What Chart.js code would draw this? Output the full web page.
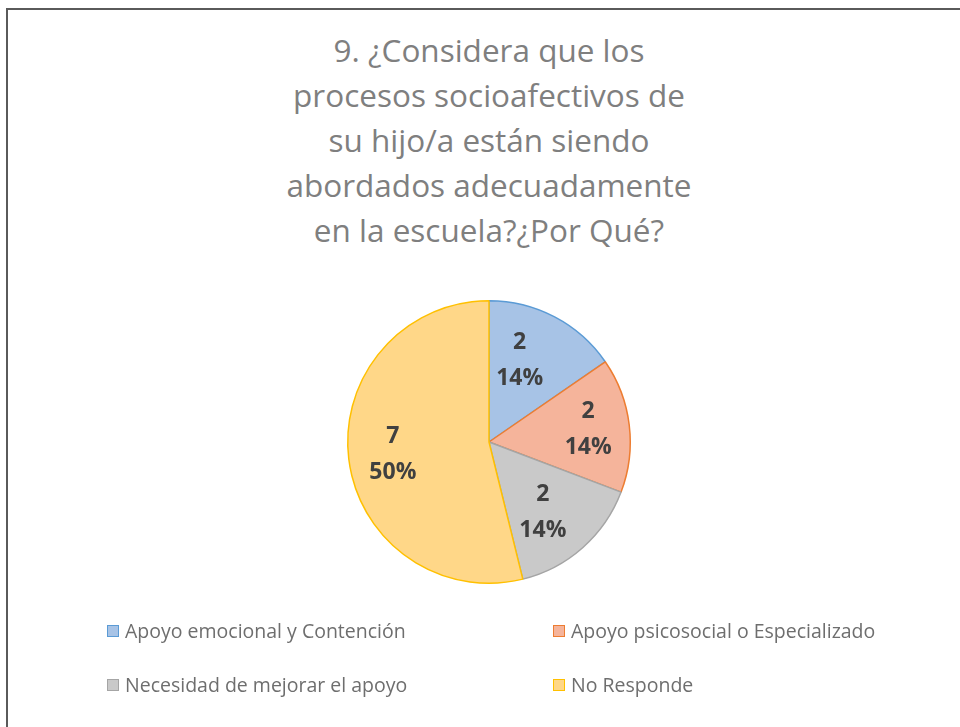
<!DOCTYPE html>
<html>
<head>
<meta charset="utf-8">
<script src="https://cdn.jsdelivr.net/npm/chart.js@4.4.1/dist/chart.umd.min.js"></script>
<style>
  html, body { margin: 0; padding: 0; background: #fff; }
  #wrap { position: relative; width: 960px; height: 727px; overflow: hidden; }
  #frame { position: absolute; left: 6px; top: 8px; right: -10px; bottom: -10px;
           border-left: 2px solid #5a5a5a; border-top: 2px solid #5a5a5a; }
  #title { position: absolute; left: 239px; width: 500px; top: 27px; text-align: center;
           font-family: "Open Sans", sans-serif; font-size: 31.5px; line-height: 45px; color: #7f7f7f; }
  #chart { position: absolute; left: 0; top: 0; }
  #legend { position: absolute; left: 107px; top: 617px; width: 820px;
            font-family: "Open Sans", sans-serif; font-size: 19.5px; color: #6e6e6e; }
  .item { position: absolute; white-space: nowrap; display: flex; align-items: center; }
  .box { width: 10px; height: 10px; border: 1.5px solid; margin-right: 6px; }
</style>
</head>
<body>
<div id="wrap">
  <div id="frame"></div>
  <div id="title"></div>
  <canvas id="chart" width="960" height="727"></canvas>
  <div id="legend"></div>
</div>
<script>
// Pie chart - socioafectivos question 9

const titleLines = [
    '9. ¿Considera que los',
    'procesos socioafectivos de',
    'su hijo/a están siendo',
    'abordados adecuadamente',
    'en la escuela?¿Por Qué?'
];

const categories = [
    'Apoyo emocional y Contención',
    'Apoyo psicosocial o Especializado',
    'Necesidad de mejorar el apoyo',
    'No Responde'
];

const counts = [2, 2, 2, 7];

// percentages as printed on the chart
const pctLabels = ['14%', '14%', '14%', '50%'];

const fillColors = ['#a7c3e6', '#f5b49b', '#c9c9c9', '#ffd788'];
const borderColors = ['#5b9bd5', '#ed7d31', '#a5a5a5', '#ffc000'];

document.getElementById('title').innerHTML = titleLines.join('<br>');

// legend, two columns
const legendEl = document.getElementById('legend');
categories.forEach(function(name, i) {
    const item = document.createElement('div');
    item.className = 'item';
    item.style.left = (i % 2 === 0 ? 0 : 446) + 'px';
    item.style.top = (i < 2 ? 0 : 54) + 'px';
    item.innerHTML = '<span class="box" style="background:' + fillColors[i] +
        ';border-color:' + borderColors[i] + '"></span>' + name;
    legendEl.appendChild(item);
});

// labels inside slices, nudged a bit like Excel best fit
const labelPlugin = {
    id: 'sliceLabels',
    afterDatasetsDraw: function(chart) {
        const ctx = chart.ctx;
        const meta = chart.getDatasetMeta(0);
        const nudge = [[-12, 0], [8, -1], [-7, 2], [-5, 1]];
        ctx.save();
        ctx.font = 'bold 23px "Open Sans", sans-serif';
        ctx.fillStyle = '#404040';
        ctx.textAlign = 'center';
        ctx.textBaseline = 'middle';
        meta.data.forEach(function(arc, i) {
            const mid = (arc.startAngle + arc.endAngle) / 2;
            const r = arc.outerRadius * 0.65;
            const x = arc.x + Math.cos(mid) * r + nudge[i][0];
            const y = arc.y + Math.sin(mid) * r + nudge[i][1];
            ctx.fillText(String(counts[i]), x, y - 18);
            ctx.fillText(pctLabels[i], x, y + 18);
        });
        ctx.restore();
    }
};

new Chart(document.getElementById('chart'), {
    type: 'pie',
    data: {
        labels: categories,
        datasets: [{
            data: counts,
            backgroundColor: fillColors,
            borderColor: borderColors,
            borderWidth: 1.5
        }]
    },
    options: {
        responsive: false,
        animation: false,
        layout: {
            padding: { left: 347, right: 329, top: 300, bottom: 143 }
        },
        plugins: {
            legend: { display: false },
            title: { display: false },
            tooltip: { enabled: false }
        }
    },
    plugins: [labelPlugin]
});
</script>
</body>
</html>
